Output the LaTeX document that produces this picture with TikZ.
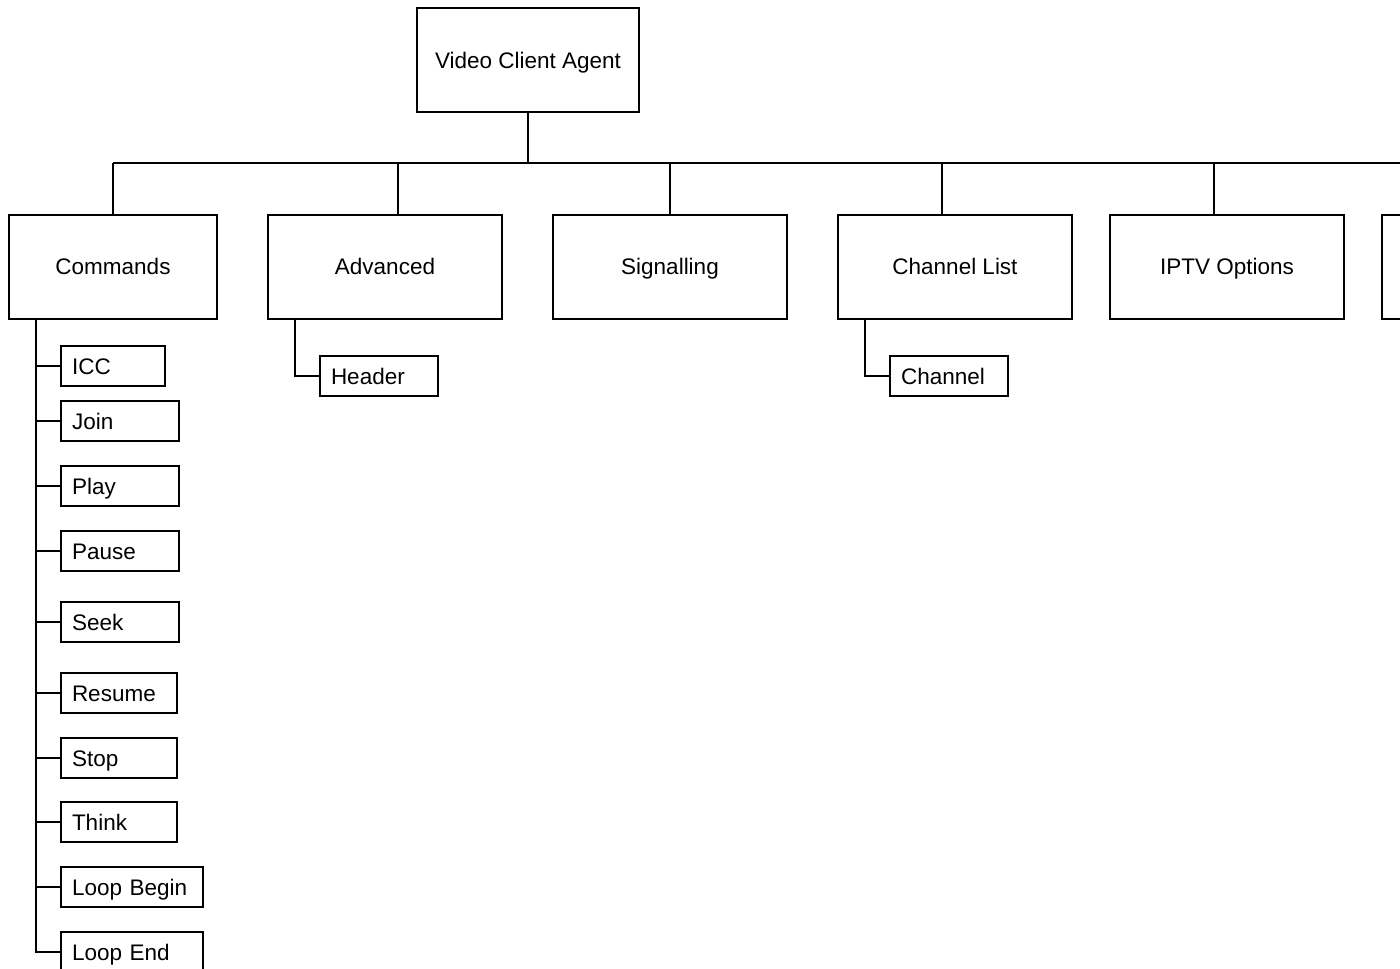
\documentclass[tikz,border=0pt]{standalone}
\usepackage{fontspec}
\setmainfont{Liberation Sans}
\begin{document}
\begin{tikzpicture}[x=1pt,y=-1pt,
  every node/.style={font=\fontsize{22.5}{27}\selectfont, text height=17pt, text depth=3pt},
  box/.style={draw, line width=2pt, rectangle, inner sep=0pt, outer sep=0pt},
  mainbox/.style={box, minimum height=104pt, align=center},
  leaf/.style={box, minimum height=40pt, inner xsep=11pt, align=left, text height=18pt, text depth=2pt},
  conn/.style={line width=2pt}]
\clip (0,0) rectangle (1400,969);
\useasboundingbox (0,0) rectangle (1400,969);
% root
\node[mainbox, minimum width=222pt, text height=18pt, text depth=2pt] (vca) at (528,60) {Video Client Agent};
% main boxes
\node[mainbox, minimum width=208pt] (cmd) at (113,267) {Commands};
\node[mainbox, minimum width=234pt] (adv) at (385,267) {Advanced};
\node[mainbox, minimum width=234pt] (sig) at (670,267) {Signalling};
\node[mainbox, minimum width=234pt] (chl) at (955,267) {Channel List};
\node[mainbox, minimum width=234pt] (iptv) at (1227,267) {IPTV Options};
\node[mainbox, minimum width=234pt] (more) at (1499,267) {};
% bus
\coordinate (busL) at (113,163);
\coordinate (busR) at (1400,163);
\coordinate (advTop) at (398,163);
\coordinate (sigTop) at (670,163);
\coordinate (chlTop) at (942,163);
\coordinate (iptvTop) at (1214,163);
\draw[conn] (vca.south) -- (vca.south |- busL);
\draw[conn] (busL) -- (busR);
\draw[conn] (busL) -- (cmd.north);
\draw[conn] (advTop) -- (advTop |- adv.north);
\draw[conn] (sigTop) -- (sig.north);
\draw[conn] (chlTop) -- (chlTop |- chl.north);
\draw[conn] (iptvTop) -- (iptvTop |- iptv.north);
% command leaves
\node[leaf, text width=82pt] (icc) at (113,366) {ICC};
\node[leaf, text width=96pt] (join) at (120,421) {Join};
\node[leaf, text width=96pt] (play) at (120,486) {Play};
\node[leaf, text width=96pt] (pause) at (120,551) {Pause};
\node[leaf, text width=96pt] (seek) at (120,622) {Seek};
\node[leaf, text width=94pt] (resume) at (119,693) {Resume};
\node[leaf, text width=94pt] (stop) at (119,758) {Stop};
\node[leaf, text width=94pt] (think) at (119,822) {Think};
\node[leaf, text width=120pt] (lbegin) at (132,887) {Loop Begin};
\node[leaf, text width=120pt] (lend) at (132,952) {Loop End};
\coordinate (cmdTrunk) at (36,319);
\draw[conn] (cmdTrunk) -- (cmdTrunk |- lend.west) -- (lend.west);
\foreach \n in {icc,join,play,pause,seek,resume,stop,think,lbegin}
  \draw[conn] (cmdTrunk |- \n.west) -- (\n.west);
% advanced leaf
\node[leaf, text width=96pt] (hdr) at (379,376) {Header};
\coordinate (advTrunk) at (295,319);
\draw[conn] (advTrunk) |- (hdr.west);
% channel list leaf
\node[leaf, text width=96pt] (chn) at (949,376) {Channel};
\coordinate (chlTrunk) at (865,319);
\draw[conn] (chlTrunk) |- (chn.west);
\end{tikzpicture}
\end{document}
